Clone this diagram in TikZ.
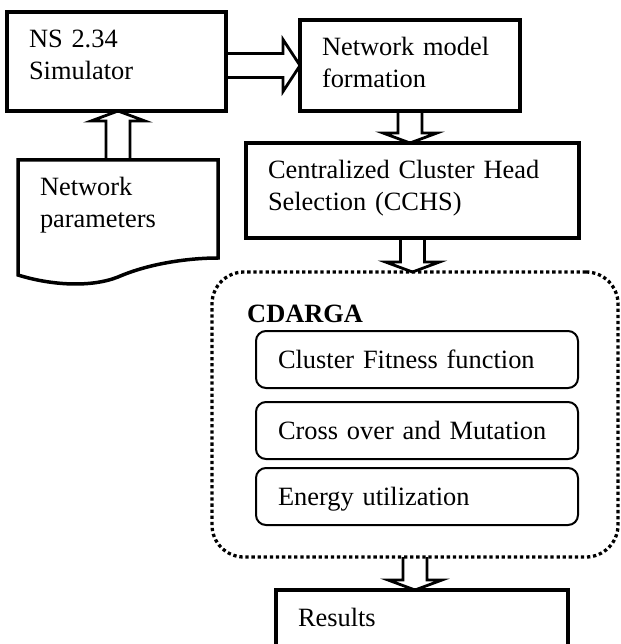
\documentclass[tikz,border=0pt]{standalone}
\usepackage{fontspec}
\setmainfont{Liberation Serif}
\usepackage{tikz}
\usetikzlibrary{calc,positioning}
% hollow block arrows between two boxes
\newcommand{\fatdown}[2]{\draw[fat] let \p1=(#1.south), \p2=(#2.north) in
  (\x1-12pt,\y1) -- (\x1-12pt,\y2+10pt) -- (\x1-27pt,\y2+10pt) -- (\x1,\y2)
  -- (\x1+27pt,\y2+10pt) -- (\x1+12pt,\y2+10pt) -- (\x1+12pt,\y1);}
\newcommand{\fatup}[2]{\draw[fat] let \p1=(#1.north), \p2=(#2.south) in
  (\x1-12pt,\y1) -- (\x1-12pt,\y2-10pt) -- (\x1-27pt,\y2-10pt) -- (\x1,\y2)
  -- (\x1+27pt,\y2-10pt) -- (\x1+12pt,\y2-10pt) -- (\x1+12pt,\y1);}
\newcommand{\fatright}[2]{\draw[fat] let \p1=(#1.east), \p2=(#2.west) in
  (\x1,\y2+12pt) -- (\x2-17pt,\y2+12pt) -- (\x2-17pt,\y2+26pt) -- (\x2,\y2)
  -- (\x2-17pt,\y2-26pt) -- (\x2-17pt,\y2-12pt) -- (\x1,\y2-12pt);}

\begin{document}
\begin{tikzpicture}[x=1pt,y=1pt,
  font=\fontsize{26.4pt}{32pt}\selectfont,
  blk/.style={draw,line width=3.5pt,outer sep=0pt,anchor=north west,align=left,
    inner xsep=22pt,inner ysep=18pt,text height=18pt},
  stage/.style={draw,line width=2pt,rounded corners=10pt,outer sep=0pt,align=left,
    minimum width=322pt,minimum height=57pt,inner xsep=22pt,inner ysep=0pt,
    text width=278pt,text height=18pt,text depth=1pt},
  fat/.style={line width=2.8pt,line join=miter},
  dots/.style={draw,line width=3.3pt,dash pattern=on 3.3pt off 2.8pt,rounded corners=32pt}]
\useasboundingbox (0,0) rectangle (620,-644);
\clip (0,0) rectangle (620,-644);
\node[blk,text width=175pt,text depth=45pt] (ns) at (7,-12) {NS 2.34\\Simulator};
\node[blk,text width=176pt,text depth=37pt] (nm) at (300,-20) {Network model\\formation};
\node[blk,draw=none,text width=156pt,text depth=44pt] (par) at (18,-160) {Network\\parameters};
\node[blk,text width=289pt,text depth=41pt] (cchs) at (246,-143) {Centralized Cluster Head\\Selection (CCHS)};
% document outline of the parameters
\draw[line width=3.5pt] (par.south east) .. controls +(-28,0) and +(32,14) .. ++(-100,-19)
  .. controls +(-28,-11) and +(32,-10) .. ++(-100,2) -- (par.north west) -- (par.north east) -- cycle;
% genetic algorithm block
\node[dots,anchor=north west,minimum width=406pt,minimum height=285pt,outer sep=0pt] (ga) at (212,-272) {};
\node[font=\fontsize{26.4pt}{32pt}\selectfont\bfseries,anchor=base west,inner sep=0pt] (gatitle) at (247,-322) {CDARGA};
\node[stage,anchor=north west] (fit) at (256,-331) {Cluster Fitness function};
\node[stage,below=14pt of fit] (cross) {Cross over and Mutation};
\node[stage,below=9pt of cross] (energy) {Energy utilization};
\node[blk,text width=248pt,text depth=36pt] (res) at (276,-590) {Results};
\fatright{ns}{nm}
\fatup{par}{ns}
\fatdown{nm}{cchs}
\fatdown{cchs}{ga}
\fatdown{ga}{res}
\end{tikzpicture}
\end{document}
